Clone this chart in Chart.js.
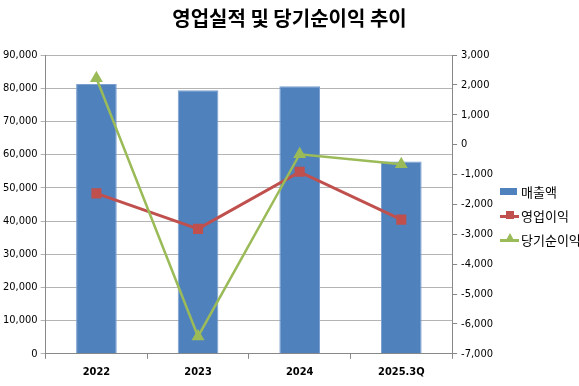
<!DOCTYPE html>
<html>
<head>
<meta charset="utf-8">
<script src="https://cdn.jsdelivr.net/npm/chart.js@4/dist/chart.umd.min.js"></script>
<style>
  html, body { margin: 0; padding: 0; background: #fff; }
  #wrap { position: relative; width: 579px; height: 386px; }
  #title { position: absolute; left: 0; top: 4px; width: 579px; text-align: center; font-family: 'Noto Sans CJK KR', sans-serif; font-size: 20px; font-weight: bold; color: #000; line-height: 28px; }
  #legend { position: absolute; left: 500px; top: 183px; font-family: 'Noto Sans CJK KR', sans-serif; font-size: 13px; color: #000; }
  .item { position: relative; height: 24px; line-height: 18px; padding-left: 21px; white-space: nowrap; }
  .icon { position: absolute; left: 0; top: 4px; width: 19px; height: 10px; }
  .bar { position: absolute; left: 0; top: 1px; width: 17px; height: 7px; }
  .line { position: absolute; left: 0; top: 4px; width: 19px; height: 3px; }
  .mk { position: absolute; left: 6px; top: 0; width: 8px; height: 8px; }
  .tri { position: absolute; left: 5px; top: -2px; width: 0; height: 0; border-left: 5px solid transparent; border-right: 5px solid transparent; border-bottom: 9px solid; }
</style>
</head>
<body>
<div id="wrap">
  <canvas id="chart" width="579" height="386"></canvas>
  <div id="title">영업실적 및 당기순이익 추이</div>
  <div id="legend"></div>
</div>
<script>
// === Data ===
const categories = ["2022", "2023", "2024", "2025.3Q"];
const sales = [81300, 79400, 80600, 57900];          // 매출액 (left axis)
const operatingProfit = [-1630, -2820, -910, -2510]; // 영업이익 (right axis)
const netIncome = [2220, -6420, -320, -660];         // 당기순이익 (right axis)

const BLUE = "#4f81bd";
const RED = "#c0504d";
const GREEN = "#9bbb59";
const NUM_FONT = "'Liberation Sans Narrow', 'DejaVu Sans Condensed', 'Liberation Sans', sans-serif";

const fmt = (v) => v.toLocaleString("en-US");

const chart = new Chart(document.getElementById("chart").getContext("2d"), {
  data: {
    labels: categories,
    datasets: [
      {
        type: "bar", label: "매출액", data: sales, yAxisID: "y",
        backgroundColor: BLUE, borderColor: "#7a9fd0", borderWidth: 1,
        barPercentage: 0.8, categoryPercentage: 0.5, order: 3
      },
      {
        type: "line", label: "영업이익", data: operatingProfit, yAxisID: "y2",
        borderColor: RED, backgroundColor: RED, borderWidth: 3,
        pointStyle: "rect", pointRadius: 5, pointHoverRadius: 5, order: 2
      },
      {
        type: "line", label: "당기순이익", data: netIncome, yAxisID: "y2",
        borderColor: GREEN, backgroundColor: GREEN, borderWidth: 2.5,
        pointStyle: "triangle", pointRadius: 5, pointHoverRadius: 5, order: 1
      }
    ]
  },
  options: {
    responsive: false,
    animation: false,
    layout: { padding: { left: 0, right: 82, top: 55, bottom: 0 } },
    plugins: {
      legend: { display: false },
      tooltip: { enabled: false }
    },
    scales: {
      x: {
        offset: true,
        grid: { offset: true, drawOnChartArea: false, drawTicks: true, tickLength: 5, color: "#888" },
        border: { color: "#888" },
        ticks: { font: { family: NUM_FONT, size: 11, weight: "bold" }, color: "#000", padding: 7 }
      },
      y: {
        position: "left",
        min: 0, max: 90000,
        ticks: { stepSize: 10000, callback: fmt, font: { family: NUM_FONT, size: 11 }, color: "#000", padding: 3 },
        grid: { color: "#b4b4b4", tickLength: 5 },
        border: { color: "#888" }
      },
      y2: {
        position: "right",
        min: -7000, max: 3000,
        ticks: { stepSize: 1000, callback: fmt, font: { family: NUM_FONT, size: 11 }, color: "#000", padding: 4 },
        grid: { drawOnChartArea: false, tickLength: 5, color: "#888" },
        border: { color: "#888" }
      }
    }
  }
});

// === HTML legend (built from the datasets) ===
const legend = document.getElementById("legend");
chart.data.datasets.forEach((ds) => {
  const row = document.createElement("div");
  row.className = "item";
  const icon = document.createElement("span");
  icon.className = "icon";
  if (ds.type === "bar") {
    icon.innerHTML = `<span class="bar" style="background:${ds.backgroundColor}"></span>`;
  } else if (ds.pointStyle === "rect") {
    icon.innerHTML = `<span class="line" style="background:${ds.borderColor}"></span><span class="mk" style="background:${ds.borderColor}"></span>`;
  } else {
    icon.innerHTML = `<span class="line" style="background:${ds.borderColor}"></span><span class="tri" style="border-bottom-color:${ds.borderColor}"></span>`;
  }
  row.appendChild(icon);
  row.appendChild(document.createTextNode(ds.label));
  legend.appendChild(row);
});
</script>
</body>
</html>
